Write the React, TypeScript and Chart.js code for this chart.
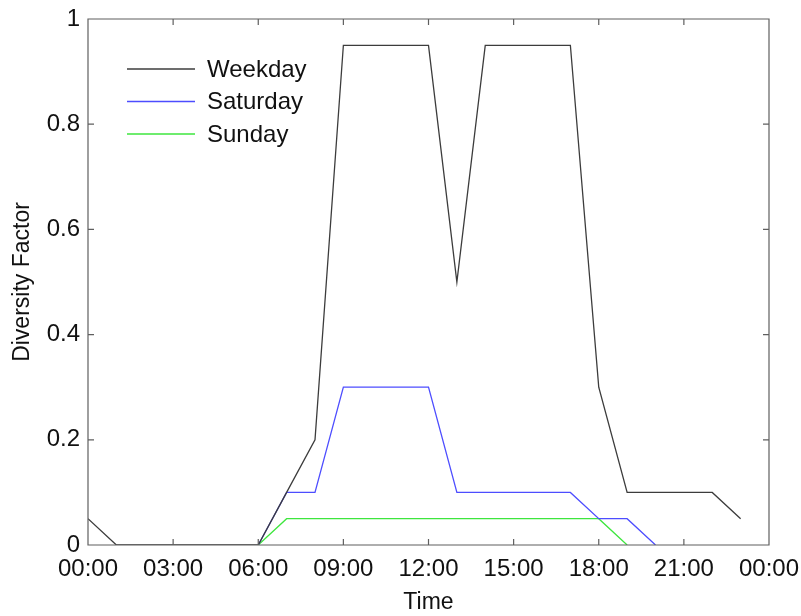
import React, { useEffect, useRef } from "react";
import { Chart, registerables } from "chart.js";

Chart.register(...registerables);

const hours = [0, 1, 2, 3, 4, 5, 6, 7, 8, 9, 10, 11, 12, 13, 14, 15, 16, 17, 18, 19, 20, 21, 22, 23];
const weekday = [0.05, 0, 0, 0, 0, 0, 0, 0.1, 0.2, 0.95, 0.95, 0.95, 0.95, 0.5, 0.95, 0.95, 0.95, 0.95, 0.3, 0.1, 0.1, 0.1, 0.1, 0.05];
const saturday = [null, null, null, null, null, null, 0, 0.1, 0.1, 0.3, 0.3, 0.3, 0.3, 0.1, 0.1, 0.1, 0.1, 0.1, 0.05, 0.05, 0, null, null, null];
const sunday = [null, null, null, null, null, null, 0, 0.05, 0.05, 0.05, 0.05, 0.05, 0.05, 0.05, 0.05, 0.05, 0.05, 0.05, 0.05, 0, null, null, null, null];
const seriesLabels = ["Weekday", "Saturday", "Sunday"];
const seriesColors = ["#3c3c3c", "#4d4dff", "#3ee63e"];
const xTickStep = 3;
const yTickStep = 0.2;

const FONT = "'Liberation Sans', Arial, Helvetica, sans-serif";

const toPoints = (vals: (number | null)[]) =>
  hours.map((h, i) => ({ x: h, y: vals[i] }));

const framePlugin = {
  id: "frameTicks",
  afterDatasetsDraw(chart: any) {
    const { ctx, chartArea } = chart;
    const { left, right, top, bottom } = chartArea;
    const xs = chart.scales.x;
    const ys = chart.scales.y;
    const tl = 6;
    ctx.save();
    ctx.strokeStyle = "#5f5f5f";
    ctx.lineWidth = 1.2;
    ctx.beginPath();
    ctx.rect(left, top, right - left, bottom - top);
    ctx.stroke();
    ctx.beginPath();
    xs.ticks.forEach((t: any) => {
      const px = xs.getPixelForValue(t.value);
      if (px <= left + 1 || px >= right - 1) return;
      ctx.moveTo(px, bottom);
      ctx.lineTo(px, bottom - tl);
      ctx.moveTo(px, top);
      ctx.lineTo(px, top + tl);
    });
    ys.ticks.forEach((t: any) => {
      const py = ys.getPixelForValue(t.value);
      if (py <= top + 1 || py >= bottom - 1) return;
      ctx.moveTo(left, py);
      ctx.lineTo(left + tl, py);
      ctx.moveTo(right, py);
      ctx.lineTo(right - tl, py);
    });
    ctx.stroke();

    // legend
    const lx = left + 39;
    const lineLen = 68;
    const ty0 = top + 50;
    const dy = 32.5;
    ctx.font = `24px ${FONT}`;
    ctx.textBaseline = "middle";
    ctx.textAlign = "left";
    chart.data.datasets.forEach((ds: any, i: number) => {
      const y = ty0 + i * dy;
      ctx.strokeStyle = ds.borderColor;
      ctx.lineWidth = 1.3;
      ctx.beginPath();
      ctx.moveTo(lx, y);
      ctx.lineTo(lx + lineLen, y);
      ctx.stroke();
      ctx.fillStyle = "#111111";
      ctx.fillText(ds.label, lx + lineLen + 12, y + 1);
    });
    ctx.restore();
  },
};

export default function App() {
  const ref = useRef<HTMLCanvasElement>(null);
  useEffect(() => {
    document.body.style.margin = "0";
    const canvas = ref.current!;
    const pad = (n: number) => (n < 10 ? "0" + n : "" + n);
    const chart = new Chart(canvas, {
      type: "line",
      data: {
        datasets: [weekday, saturday, sunday].map((vals, i) => ({
          label: seriesLabels[i],
          data: toPoints(vals),
          borderColor: seriesColors[i],
          backgroundColor: seriesColors[i],
          borderWidth: 1.3,
          pointRadius: 0,
          tension: 0,
          spanGaps: false,
        })),
      },
      options: {
        animation: false,
        responsive: false,
        maintainAspectRatio: false,
        layout: { padding: { left: 0, right: 32, top: 19, bottom: 0 } },
        plugins: { legend: { display: false }, tooltip: { enabled: false } },
        scales: {
          x: {
            type: "linear",
            min: 0,
            max: 24,
            ticks: {
              stepSize: xTickStep,
              autoSkip: false,
              maxRotation: 0,
              padding: 10,
              color: "#111111",
              font: { family: FONT, size: 24 },
              callback: (v: any) => pad(Number(v) % 24) + ":00",
            },
            grid: { display: false, drawTicks: false },
            border: { display: false },
            title: {
              display: true,
              text: "Time",
              color: "#111111",
              font: { family: FONT, size: 23 },
              padding: { top: 1, bottom: 0 },
            },
            afterFit: (s: any) => {
              s.height = 71;
              s.paddingLeft = 0;
              s.paddingRight = 0;
            },
          },
          y: {
            min: 0,
            max: 1,
            ticks: {
              stepSize: yTickStep,
              padding: 8,
              color: "#111111",
              font: { family: FONT, size: 24 },
              callback: (v: any) => String(Math.round(Number(v) * 10) / 10),
            },
            grid: { display: false, drawTicks: false },
            border: { display: false },
            title: {
              display: true,
              text: "Diversity Factor",
              color: "#111111",
              font: { family: FONT, size: 23 },
              padding: { top: 9, bottom: 0 },
            },
            afterFit: (s: any) => {
              s.width = 88;
              s.paddingTop = 0;
              s.paddingBottom = 0;
            },
          },
        },
      },
      plugins: [framePlugin],
    });
    return () => chart.destroy();
  }, []);
  return <canvas ref={ref} width={801} height={616} style={{ display: "block" }} />;
}
